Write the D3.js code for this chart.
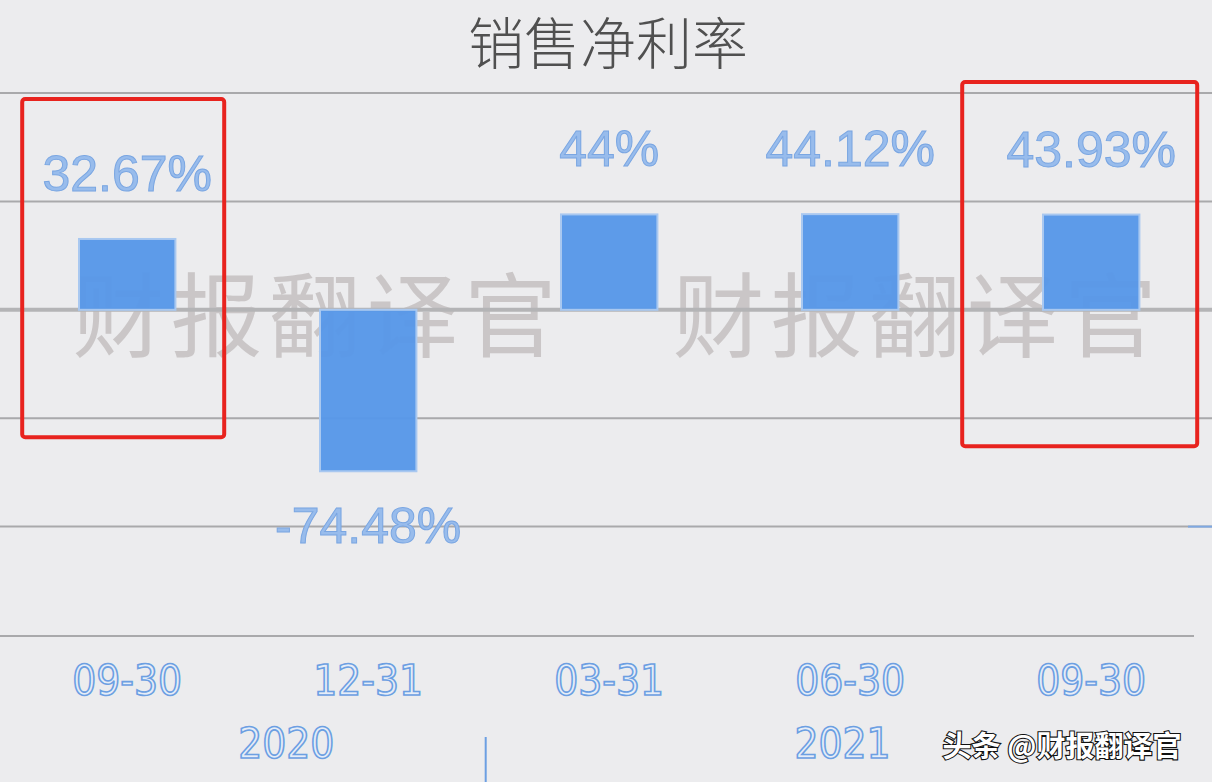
<!DOCTYPE html>
<html><head><meta charset="utf-8">
<script src="https://cdn.jsdelivr.net/npm/d3@7"></script>
<style>
html,body{margin:0;padding:0;background:#ececee;}
svg{display:block;}
</style></head>
<body>
<script>
const categories = ["09-30","12-31","03-31","06-30","09-30"];
const keys = ["2020-09-30","2020-12-31","2021-03-31","2021-06-30","2021-09-30"];
const values = [32.67, -74.48, 44, 44.12, 43.93];
const valueLabels = ["32.67%","-74.48%","44%","44.12%","43.93%"];
const years = ["2020","2021"];
const yearSpans = [[0,1],[2,4]];
const yTicks = [100, 50, 0, -50, -100, -150];
const title = "销售净利率";
const watermark = "财报翻译官";
const highlighted = [0, 4];

const W = 1212, H = 782;
const svg = d3.select("body").append("svg").attr("width", W).attr("height", H);
svg.append("rect").attr("width", W).attr("height", H).attr("fill", "#ececee");

const x = d3.scaleBand().domain(keys).range([6.7, 1211.7]).paddingInner(0.6).paddingOuter(0.3);
const y = d3.scaleLinear().domain([-150, 100]).range([635, 93]);
const bw = x.bandwidth();

// title
svg.append("text").attr("x", W/2 + 2).attr("y", 64).attr("text-anchor", "middle")
  .attr("font-family", "'Noto Sans CJK SC', sans-serif").attr("font-size", 56)
  .attr("font-weight", 300)
  .attr("fill", "#505050").text(title);

// gridlines
const grid = svg.append("g");
grid.selectAll("line").data(yTicks.filter(t => t !== 0 && t !== -150)).join("line")
  .attr("x1", 0).attr("x2", W).attr("y1", d => y(d)).attr("y2", d => y(d))
  .attr("stroke", "#a9a9ab").attr("stroke-width", 2);
// bottom axis line
grid.append("line").attr("x1", 0).attr("x2", 1194).attr("y1", y(-150)+1).attr("y2", y(-150)+1)
  .attr("stroke", "#a9a9ab").attr("stroke-width", 2);
// right small tick
grid.append("line").attr("x1", 1188).attr("x2", W).attr("y1", y(-100)).attr("y2", y(-100))
  .attr("stroke", "#7ea8e2").attr("stroke-width", 2);

// watermark
[0.262, 0.757].forEach(f => {
  svg.append("text").attr("x", W*f).attr("y", 350).attr("text-anchor", "middle")
    .attr("font-family", "'Noto Sans CJK SC', sans-serif").attr("font-size", 92)
    .attr("letter-spacing", 6)
    .attr("fill", "#bcb6b6").attr("fill-opacity", 0.7).text(watermark);
});

// zero line
svg.append("line").attr("x1", 0).attr("x2", W).attr("y1", y(0)).attr("y2", y(0))
  .attr("stroke", "#b4b4b6").attr("stroke-width", 4);

// bars
svg.append("g").selectAll("rect").data(values).join("rect")
  .attr("x", (d,i) => x(keys[i]))
  .attr("y", d => y(Math.max(0, d)))
  .attr("width", bw)
  .attr("height", d => Math.abs(y(d) - y(0)))
  .attr("fill", "#5898e8").attr("fill-opacity", 0.97)
  .attr("stroke", "#a9c8f0").attr("stroke-width", 2);

// value labels
svg.append("g").selectAll("text").data(values).join("text")
  .attr("x", (d,i) => x(keys[i]) + bw/2)
  .attr("y", d => d >= 0 ? y(d) - 48 : y(d) + 72)
  .attr("text-anchor", "middle")
  .attr("font-family", "'Liberation Sans', Arial, sans-serif").attr("font-size", 50)
  .attr("fill", "#98bcec").attr("stroke", "#7aa6e2").attr("stroke-width", 1)
  .text((d,i) => valueLabels[i]);

// category labels
svg.append("g").selectAll("text").data(categories).join("text")
  .attr("x", (d,i) => x(keys[i]) + bw/2)
  .attr("y", 695)
  .attr("text-anchor", "middle")
  .attr("font-family", "'DejaVu Sans Condensed','DejaVu Sans',sans-serif")
  .attr("font-stretch", "condensed").attr("font-weight", 200)
  .attr("font-size", 42)
  .attr("fill", "#e6edf8").attr("stroke", "#6c9fe2").attr("stroke-width", 1.6)
  .text(d => d);

// year group labels
const divider = (x(keys[1]) + bw + x(keys[2])) / 2 - 3;
svg.append("line").attr("x1", divider).attr("x2", divider).attr("y1", 737).attr("y2", H)
  .attr("stroke", "#6c9fe2").attr("stroke-width", 2);
const yearX = [
  (x(keys[yearSpans[0][0]]) + divider) / 2 + 4,
  (divider + x(keys[yearSpans[1][1]]) + bw) / 2 + 30
];
svg.append("g").selectAll("text").data(years).join("text")
  .attr("x", (d,i) => yearX[i]).attr("y", 758).attr("text-anchor", "middle")
  .attr("font-family", "'DejaVu Sans Condensed','DejaVu Sans',sans-serif")
  .attr("font-stretch", "condensed").attr("font-size", 42)
  .attr("fill", "#e6edf8").attr("stroke", "#6c9fe2").attr("stroke-width", 1.6)
  .text(d => d);

// highlight boxes
const boxes = [
  {i: highlighted[0], l: -105, r: 97, top: y(100) + 6, bottom: y(-50) + 19},
  {i: highlighted[1], l: -129, r: 106, top: y(100) - 11, bottom: y(-50) + 28}
];
svg.append("g").selectAll("rect").data(boxes).join("rect")
  .attr("x", d => x(keys[d.i]) + bw/2 + d.l)
  .attr("y", d => d.top)
  .attr("width", d => d.r - d.l)
  .attr("height", d => d.bottom - d.top)
  .attr("rx", 3)
  .attr("fill", "none").attr("stroke", "#e8231e").attr("stroke-width", 4);

// bottom-right credit
svg.append("text").attr("x", 1062).attr("y", 757).attr("text-anchor", "middle")
  .attr("font-family", "'Noto Sans CJK SC', sans-serif").attr("font-size", 29)
  .attr("font-weight", 700)
  .attr("fill", "#ffffff").attr("stroke", "#111").attr("stroke-width", 2.2)
  .attr("paint-order", "stroke")
  .text("头条 @财报翻译官");
</script>
</body></html>
